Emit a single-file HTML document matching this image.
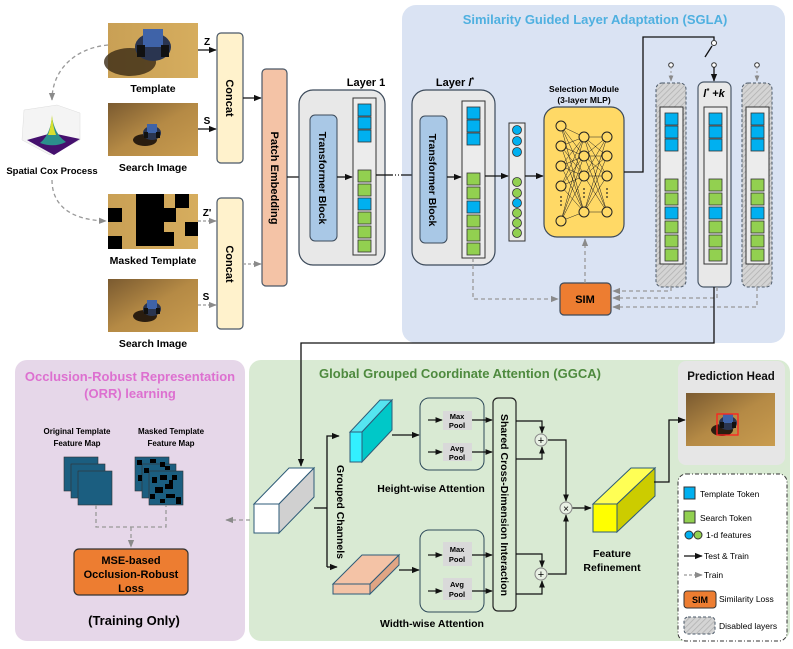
<!DOCTYPE html>
<html><head><meta charset="utf-8"><style>
html,body{margin:0;padding:0;background:#fff;}
svg{display:block;font-family:"Liberation Sans",sans-serif;}
.b{font-weight:bold;}
</style></head><body>
<svg width="793" height="649" viewBox="0 0 793 649" xmlns="http://www.w3.org/2000/svg">
<defs>
<marker id="ak" viewBox="0 0 10 10" refX="9" refY="5" markerWidth="6" markerHeight="6" orient="auto"><path d="M0,1 L10,5 L0,9 z" fill="#111"/></marker>
<marker id="ag" viewBox="0 0 10 10" refX="9" refY="5" markerWidth="6" markerHeight="6" orient="auto"><path d="M0,1 L10,5 L0,9 z" fill="#8a8a8a"/></marker>
<pattern id="hatch" width="4" height="4" patternUnits="userSpaceOnUse" patternTransform="rotate(45)"><rect width="4" height="4" fill="#d4d4d4"/><line x1="0" y1="0" x2="0" y2="4" stroke="#b0b0b0" stroke-width="1.5"/></pattern>
<linearGradient id="photo" x1="0" y1="0" x2="1" y2="1"><stop offset="0" stop-color="#7a5a30"/><stop offset="0.5" stop-color="#b58a45"/><stop offset="1" stop-color="#c99c4f"/></linearGradient>
<linearGradient id="photo2" x1="0" y1="0" x2="1" y2="0"><stop offset="0" stop-color="#c9a055"/><stop offset="1" stop-color="#d6ad5e"/></linearGradient>
<g id="col">
<rect x="0" y="0" width="23" height="157" fill="#ececec" stroke="#333" stroke-width="1"/>
<g stroke="#333" stroke-width="0.8">
<rect x="5" y="6" width="13" height="12" fill="#00b0f0"/><rect x="5" y="19" width="13" height="12" fill="#00b0f0"/><rect x="5" y="32" width="13" height="12" fill="#00b0f0"/>
<rect x="5" y="72" width="13" height="12" fill="#92d050"/><rect x="5" y="86" width="13" height="12" fill="#92d050"/><rect x="5" y="100" width="13" height="12" fill="#00b0f0"/>
<rect x="5" y="114" width="13" height="12" fill="#92d050"/><rect x="5" y="128" width="13" height="12" fill="#92d050"/><rect x="5" y="142" width="13" height="12" fill="#92d050"/>
</g></g>
<g id="car"><ellipse cx="0" cy="0" rx="9" ry="7" fill="#2a3550"/><rect x="-5" y="-9" width="10" height="9" fill="#3f63a8"/><rect x="-8" y="-1" width="4" height="6" fill="#111"/><rect x="4" y="-1" width="4" height="6" fill="#111"/></g>
</defs>

<!-- panels -->
<rect x="402" y="5" width="383" height="338" rx="14" fill="#dae3f3"/>
<text x="595" y="24" text-anchor="middle" class="b" font-size="13" fill="#4fb0e0">Similarity Guided Layer Adaptation (SGLA)</text>
<rect x="15" y="360" width="230" height="281" rx="12" fill="#e6d7e9"/>
<text x="130" y="381" text-anchor="middle" class="b" font-size="13" fill="#dd70d0">Occlusion-Robust Representation</text>
<text x="130" y="398" text-anchor="middle" class="b" font-size="13" fill="#dd70d0">(ORR) learning</text>
<rect x="249" y="360" width="541" height="281" rx="12" fill="#d9ead3"/>
<text x="460" y="378" text-anchor="middle" class="b" font-size="13" fill="#4e8a3e">Global Grouped Coordinate Attention (GGCA)</text>
<rect x="678" y="361" width="107" height="104" rx="8" fill="#e6e6e6"/>
<text x="731" y="380" text-anchor="middle" class="b" font-size="11.5" fill="#111">Prediction Head</text>

<!-- images -->
<rect x="108" y="23" width="90" height="55" fill="url(#photo2)"/><ellipse cx="130" cy="62" rx="26" ry="14" fill="#3a2a15" opacity="0.8"/><g transform="translate(153,47) scale(2)"><use href="#car"/></g>
<text x="153" y="92" text-anchor="middle" class="b" font-size="10.5">Template</text>
<rect x="108" y="103" width="90" height="53" fill="url(#photo)"/><ellipse cx="145" cy="140" rx="12" ry="6" fill="#2a1d10"/><use href="#car" transform="translate(152,133)"/>
<text x="153" y="171" text-anchor="middle" class="b" font-size="10.5">Search Image</text>
<rect x="108" y="194" width="90" height="55" fill="url(#photo2)"/>
<g fill="#000"><rect x="108" y="208" width="14" height="14"/><rect x="136" y="194" width="28" height="14"/><rect x="136" y="208" width="40" height="14"/><rect x="175" y="194" width="14" height="14"/><rect x="136" y="222" width="28" height="24"/><rect x="160" y="232" width="14" height="14"/><rect x="185" y="222" width="13" height="14"/><rect x="108" y="236" width="14" height="13"/></g>
<text x="153" y="264" text-anchor="middle" class="b" font-size="10.5">Masked Template</text>
<rect x="108" y="279" width="90" height="53" fill="url(#photo)"/><ellipse cx="145" cy="316" rx="12" ry="6" fill="#2a1d10"/><use href="#car" transform="translate(152,309)"/>
<text x="153" y="347" text-anchor="middle" class="b" font-size="10.5">Search Image</text>

<!-- Spatial cox -->
<g transform="translate(22,105)">
<path d="M2,5 L35,0 L58,8 L58,35 L28,50 L0,35 z" fill="#f4f4f4" stroke="#ddd" stroke-width="0.5"/>
<path d="M5,35 L30,28 L58,34 L32,50 z" fill="#45106e"/>
<path d="M18,38 Q28,30 30,12 Q33,30 44,37 Q32,43 18,38 z" fill="#2b8f8c"/>
<path d="M26,30 Q29,22 30,10 Q31,22 34,30 z" fill="#d8e030"/>
</g>
<text x="52" y="174" text-anchor="middle" class="b" font-size="9.5">Spatial Cox Process</text>
<path d="M108,45 C75,48 52,70 52,100" fill="none" stroke="#999" stroke-width="1.3" stroke-dasharray="4,3" marker-end="url(#ag)"/>
<path d="M52,180 C52,205 70,220 106,221" fill="none" stroke="#999" stroke-width="1.3" stroke-dasharray="4,3" marker-end="url(#ag)"/>

<!-- concat -->
<rect x="217" y="33" width="26" height="130" rx="4" fill="#fff2cc" stroke="#4a5868" stroke-width="1.2"/>
<text transform="translate(226,98) rotate(90)" text-anchor="middle" class="b" font-size="11">Concat</text>
<rect x="217" y="198" width="26" height="131" rx="4" fill="#fff2cc" stroke="#4a5868" stroke-width="1.2"/>
<text transform="translate(226,264) rotate(90)" text-anchor="middle" class="b" font-size="11">Concat</text>
<line x1="198" y1="50" x2="216" y2="50" stroke="#111" stroke-width="1.3" marker-end="url(#ak)"/><text x="207" y="45" text-anchor="middle" class="b" font-size="10">Z</text>
<line x1="198" y1="129" x2="216" y2="129" stroke="#111" stroke-width="1.3" marker-end="url(#ak)"/><text x="207" y="124" text-anchor="middle" class="b" font-size="10">S</text>
<line x1="198" y1="221" x2="216" y2="221" stroke="#999" stroke-width="1.3" stroke-dasharray="3,2" marker-end="url(#ag)"/><text x="207" y="216" text-anchor="middle" class="b" font-size="10">Z'</text>
<line x1="198" y1="305" x2="216" y2="305" stroke="#999" stroke-width="1.3" stroke-dasharray="3,2" marker-end="url(#ag)"/><text x="206" y="300" text-anchor="middle" class="b" font-size="10">S</text>
<line x1="243" y1="98" x2="261" y2="98" stroke="#111" stroke-width="1.3" marker-end="url(#ak)"/>
<line x1="243" y1="264" x2="261" y2="264" stroke="#999" stroke-width="1.3" stroke-dasharray="3,2" marker-end="url(#ag)"/>

<!-- patch embedding -->
<rect x="262" y="69" width="25" height="217" rx="4" fill="#f4c3a6" stroke="#4a5868" stroke-width="1.2"/>
<text transform="translate(271,178) rotate(90)" text-anchor="middle" class="b" font-size="11">Patch Embedding</text>
<line x1="287" y1="177" x2="309" y2="177" stroke="#111" stroke-width="1.3" marker-end="url(#ak)"/>

<!-- Layer 1 -->
<text x="366" y="86" text-anchor="middle" class="b" font-size="11">Layer 1</text>
<rect x="299" y="90" width="86" height="175" rx="14" fill="#e8e8e8" stroke="#3c4a5a" stroke-width="1.2"/>
<rect x="310" y="115" width="27" height="126" rx="5" fill="#a9c8e6" stroke="#3c4a5a" stroke-width="1"/>
<text transform="translate(319,178) rotate(90)" text-anchor="middle" class="b" font-size="10.5">Transformer Block</text>
<line x1="337" y1="177" x2="352" y2="177" stroke="#111" stroke-width="1.3" marker-end="url(#ak)"/>
<use href="#col" x="353" y="98"/>
<line x1="376" y1="175" x2="392" y2="175" stroke="#111" stroke-width="1.3"/>
<line x1="392" y1="175" x2="402" y2="175" stroke="#111" stroke-width="1.3" stroke-dasharray="1,2"/>
<line x1="402" y1="175" x2="419" y2="175" stroke="#111" stroke-width="1.3" marker-end="url(#ak)"/>

<!-- Layer l* -->
<text x="455" y="86" text-anchor="middle" class="b" font-size="11">Layer <tspan font-style="italic">l</tspan><tspan font-size="7" dy="-4">*</tspan></text>
<rect x="412" y="90" width="83" height="175" rx="14" fill="#e8e8e8" stroke="#3c4a5a" stroke-width="1.2"/>
<rect x="420" y="116" width="27" height="127" rx="5" fill="#a9c8e6" stroke="#3c4a5a" stroke-width="1"/>
<text transform="translate(429,180) rotate(90)" text-anchor="middle" class="b" font-size="10.5">Transformer Block</text>
<line x1="447" y1="177" x2="461" y2="177" stroke="#111" stroke-width="1.3" marker-end="url(#ak)"/>
<use href="#col" x="462" y="101"/>
<line x1="485" y1="176" x2="508" y2="176" stroke="#111" stroke-width="1.3" marker-end="url(#ak)"/>
<rect x="509" y="123" width="16" height="118" fill="#ececec" stroke="#333"/>
<g stroke="#333" stroke-width="0.8">
<circle cx="517" cy="130" r="4.5" fill="#00b0f0"/><circle cx="517" cy="141" r="4.5" fill="#00b0f0"/><circle cx="517" cy="152" r="4.5" fill="#00b0f0"/>
<circle cx="517" cy="182" r="4.5" fill="#92d050"/><circle cx="517" cy="193" r="4.5" fill="#92d050"/><circle cx="517" cy="203" r="4.5" fill="#00b0f0"/>
<circle cx="517" cy="213" r="4.5" fill="#92d050"/><circle cx="517" cy="223" r="4.5" fill="#92d050"/><circle cx="517" cy="233" r="4.5" fill="#92d050"/>
</g>
<line x1="525" y1="176" x2="543" y2="176" stroke="#111" stroke-width="1.3" marker-end="url(#ak)"/>

<!-- selection module -->
<text x="584" y="92" text-anchor="middle" class="b" font-size="8.5">Selection Module</text>
<text x="584" y="103" text-anchor="middle" class="b" font-size="8.5">(3-layer MLP)</text>
<rect x="544" y="107" width="80" height="130" rx="13" fill="#ffd966" stroke="#3c4a5a" stroke-width="1.2"/>
<g stroke="#222" stroke-width="0.5">
<path d="M561,126L584,137M561,126L584,156M561,126L584,176M561,126L584,212M561,146L584,137M561,146L584,156M561,146L584,176M561,146L584,212M561,166L584,137M561,166L584,156M561,166L584,176M561,166L584,212M561,186L584,137M561,186L584,156M561,186L584,176M561,186L584,212M561,221L584,137M561,221L584,156M561,221L584,176M561,221L584,212"/>
<path d="M584,137L607,137M584,137L607,156M584,137L607,176M584,137L607,212M584,156L607,137M584,156L607,156M584,156L607,176M584,156L607,212M584,176L607,137M584,176L607,156M584,176L607,176M584,176L607,212M584,212L607,137M584,212L607,156M584,212L607,176M584,212L607,212"/>
</g>
<g fill="#ffd966" stroke="#222" stroke-width="1">
<circle cx="561" cy="126" r="5"/><circle cx="561" cy="146" r="5"/><circle cx="561" cy="166" r="5"/><circle cx="561" cy="186" r="5"/><circle cx="561" cy="221" r="5"/>
<circle cx="584" cy="137" r="5"/><circle cx="584" cy="156" r="5"/><circle cx="584" cy="176" r="5"/><circle cx="584" cy="212" r="5"/>
<circle cx="607" cy="137" r="5"/><circle cx="607" cy="156" r="5"/><circle cx="607" cy="176" r="5"/><circle cx="607" cy="212" r="5"/>
</g>
<g fill="#222"><circle cx="561" cy="197" r="0.9"/><circle cx="561" cy="201" r="0.9"/><circle cx="561" cy="205" r="0.9"/><circle cx="584" cy="189" r="0.9"/><circle cx="584" cy="193" r="0.9"/><circle cx="584" cy="197" r="0.9"/><circle cx="607" cy="189" r="0.9"/><circle cx="607" cy="193" r="0.9"/><circle cx="607" cy="197" r="0.9"/></g>
<polyline points="624,172 643,172 643,37 714,37 714,40" fill="none" stroke="#111" stroke-width="1.3"/>
<circle cx="714" cy="43" r="2.5" fill="#fff" stroke="#333"/>
<line x1="712" y1="46" x2="705" y2="57" stroke="#111" stroke-width="1.3"/>

<!-- layer columns -->
<rect x="656" y="83" width="30" height="204" rx="6" fill="url(#hatch)" stroke="#4a5868" stroke-dasharray="3,2"/>
<use href="#col" x="660" y="107"/>
<rect x="698" y="82" width="33" height="205" rx="6" fill="#e8e8e8" stroke="#4a5868" stroke-width="1.2"/>
<text x="714" y="97" text-anchor="middle" class="b" font-size="11" font-style="italic">l<tspan font-size="7" dy="-4">*</tspan><tspan dy="4"> +k</tspan></text>
<use href="#col" x="704" y="107"/>
<rect x="742" y="83" width="30" height="204" rx="6" fill="url(#hatch)" stroke="#4a5868" stroke-dasharray="3,2"/>
<use href="#col" x="746" y="107"/>
<circle cx="671" cy="65" r="2.3" fill="#fff" stroke="#333"/><line x1="671" y1="67" x2="671" y2="81" stroke="#999" stroke-dasharray="2,2" marker-end="url(#ag)"/>
<circle cx="714" cy="65" r="2.3" fill="#fff" stroke="#333"/><line x1="714" y1="67" x2="714" y2="81" stroke="#111" stroke-width="1.3" marker-end="url(#ak)"/>
<circle cx="757" cy="65" r="2.3" fill="#fff" stroke="#333"/><line x1="757" y1="67" x2="757" y2="81" stroke="#999" stroke-dasharray="2,2" marker-end="url(#ag)"/>

<!-- SIM -->
<rect x="560" y="283" width="51" height="32" rx="4" fill="#ed7d31" stroke="#3c4a5a" stroke-width="1.2"/>
<text x="585" y="303" text-anchor="middle" class="b" font-size="11">SIM</text>
<g fill="none" stroke="#999" stroke-width="1.3" stroke-dasharray="4,3">
<polyline points="473,258 473,299 558,299" marker-end="url(#ag)"/>
<line x1="585" y1="283" x2="585" y2="239" marker-end="url(#ag)"/>
<polyline points="671,287 671,291 613,291" marker-end="url(#ag)"/>
<polyline points="717,287 717,298 613,298" marker-end="url(#ag)"/>
<polyline points="757,287 757,307 613,307" marker-end="url(#ag)"/>
</g>
<polyline points="714,287 714,343 301,343 301,466" fill="none" stroke="#111" stroke-width="1.3" marker-end="url(#ak)"/>

<!-- ORR -->
<text x="77" y="434" text-anchor="middle" class="b" font-size="8">Original Template</text>
<text x="77" y="446" text-anchor="middle" class="b" font-size="8">Feature Map</text>
<text x="171" y="434" text-anchor="middle" class="b" font-size="8">Masked Template</text>
<text x="171" y="446" text-anchor="middle" class="b" font-size="8">Feature Map</text>
<g fill="#1b5e80" stroke="#333" stroke-width="0.6">
<rect x="64" y="457" width="34" height="34"/><rect x="71" y="464" width="34" height="34"/><rect x="78" y="471" width="34" height="34"/>
<rect x="135" y="457" width="34" height="34"/><rect x="142" y="464" width="34" height="34"/><rect x="149" y="471" width="34" height="34"/>
</g>
<g fill="#000">
<rect x="137" y="460" width="5" height="5"/><rect x="150" y="459" width="6" height="4"/><rect x="160" y="462" width="5" height="5"/><rect x="138" y="475" width="4" height="6"/><rect x="144" y="468" width="5" height="5"/><rect x="165" y="466" width="5" height="4"/>
<rect x="152" y="477" width="5" height="6"/><rect x="160" y="475" width="7" height="5"/><rect x="172" y="475" width="5" height="5"/><rect x="155" y="487" width="8" height="6"/><rect x="165" y="484" width="8" height="5"/>
<rect x="150" y="494" width="5" height="5"/><rect x="166" y="494" width="9" height="4"/><rect x="176" y="497" width="5" height="7"/><rect x="160" y="499" width="5" height="4"/><rect x="169" y="480" width="4" height="4"/>
</g>
<g fill="none" stroke="#999" stroke-width="1.3" stroke-dasharray="4,3">
<polyline points="96,505 96,527 166,527 166,505"/>
<line x1="131" y1="527" x2="131" y2="547" marker-end="url(#ag)"/>
<line x1="250" y1="520" x2="226" y2="520" marker-end="url(#ag)"/>
</g>
<rect x="74" y="549" width="114" height="46" rx="5" fill="#ed7d31" stroke="#333" stroke-width="1.2"/>
<text x="131" y="564" text-anchor="middle" class="b" font-size="11">MSE-based</text>
<text x="131" y="578" text-anchor="middle" class="b" font-size="11">Occlusion-Robust</text>
<text x="131" y="592" text-anchor="middle" class="b" font-size="11">Loss</text>
<text x="134" y="625" text-anchor="middle" class="b" font-size="13">(Training Only)</text>

<!-- GGCA -->
<g stroke="#2e5b78" stroke-width="1">
<polygon points="254,504 279,504 314,468 289,468" fill="#fff"/>
<polygon points="279,504 314,468 314,497 279,533" fill="#d0d0d0"/>
<rect x="254" y="504" width="25" height="29" fill="#fff"/>
</g>
<polyline points="314,508 327,508" stroke="#111" stroke-width="1.3" fill="none"/>
<polyline points="327,567 327,436 339,436" stroke="#111" stroke-width="1.3" fill="none" marker-end="url(#ak)"/>
<line x1="327" y1="567" x2="337" y2="567" stroke="#111" stroke-width="1.3" marker-end="url(#ak)"/>
<text transform="translate(337,512) rotate(90)" text-anchor="middle" class="b" font-size="10.5">Grouped Channels</text>
<g stroke="#2e5b78" stroke-width="1">
<polygon points="350,432 362,432 392,400 380,400" fill="#55e5f0"/>
<polygon points="362,432 392,400 392,430 362,462" fill="#00c8c8"/>
<rect x="350" y="432" width="12" height="30" fill="#33f0ff"/>
<polygon points="333,584 370,584 399,555 362,555" fill="#f4c3a6"/>
<polygon points="370,584 399,555 399,565 370,594" fill="#e0a584"/>
<rect x="333" y="584" width="37" height="10" fill="#f4c3a6"/>
</g>
<line x1="392" y1="435" x2="419" y2="435" stroke="#111" stroke-width="1.3" marker-end="url(#ak)"/>
<line x1="399" y1="570" x2="419" y2="570" stroke="#111" stroke-width="1.3" marker-end="url(#ak)"/>
<rect x="420" y="398" width="64" height="72" rx="9" fill="none" stroke="#2e4a5a" stroke-width="1"/>
<rect x="443" y="411" width="29" height="19" fill="#d9d9d9"/><text x="457" y="419" text-anchor="middle" class="b" font-size="7.5">Max</text><text x="457" y="428" text-anchor="middle" class="b" font-size="7.5">Pool</text>
<rect x="443" y="443" width="29" height="18" fill="#d9d9d9"/><text x="457" y="451" text-anchor="middle" class="b" font-size="7.5">Avg</text><text x="457" y="460" text-anchor="middle" class="b" font-size="7.5">Pool</text>
<text x="431" y="492" text-anchor="middle" class="b" font-size="10.5">Height-wise Attention</text>
<rect x="420" y="530" width="64" height="82" rx="9" fill="none" stroke="#2e4a5a" stroke-width="1"/>
<rect x="443" y="542" width="29" height="24" fill="#d9d9d9"/><text x="457" y="552" text-anchor="middle" class="b" font-size="7.5">Max</text><text x="457" y="562" text-anchor="middle" class="b" font-size="7.5">Pool</text>
<rect x="443" y="578" width="29" height="22" fill="#d9d9d9"/><text x="457" y="587" text-anchor="middle" class="b" font-size="7.5">Avg</text><text x="457" y="597" text-anchor="middle" class="b" font-size="7.5">Pool</text>
<text x="432" y="627" text-anchor="middle" class="b" font-size="10.5">Width-wise Attention</text>
<g stroke="#111" stroke-width="1.2" fill="none">
<line x1="428" y1="420" x2="442" y2="420" marker-end="url(#ak)"/><line x1="428" y1="452" x2="442" y2="452" marker-end="url(#ak)"/>
<line x1="428" y1="555" x2="442" y2="555" marker-end="url(#ak)"/><line x1="428" y1="591" x2="442" y2="591" marker-end="url(#ak)"/>
<line x1="472" y1="420" x2="492" y2="420" marker-end="url(#ak)"/><line x1="472" y1="452" x2="492" y2="452" marker-end="url(#ak)"/>
<line x1="472" y1="555" x2="492" y2="555" marker-end="url(#ak)"/><line x1="472" y1="591" x2="492" y2="591" marker-end="url(#ak)"/>
</g>
<rect x="493" y="398" width="23" height="213" rx="5" fill="none" stroke="#222" stroke-width="1.2"/>
<text transform="translate(501,505) rotate(90)" text-anchor="middle" class="b" font-size="10.5">Shared Cross-Dimension Interaction</text>
<g stroke="#111" stroke-width="1.2" fill="none">
<polyline points="516,421 542,421 542,433" marker-end="url(#ak)"/>
<polyline points="516,459 542,459 542,447" marker-end="url(#ak)"/>
<polyline points="516,554 542,554 542,567" marker-end="url(#ak)"/>
<polyline points="516,594 542,594 542,581" marker-end="url(#ak)"/>
<polyline points="548,440 566,440 566,501" marker-end="url(#ak)"/>
<polyline points="548,574 566,574 566,515" marker-end="url(#ak)"/>
<line x1="572" y1="508" x2="591" y2="508" marker-end="url(#ak)"/>
</g>
<circle cx="541" cy="440" r="6" fill="#e8f0e4" stroke="#888"/><text x="541" y="444" text-anchor="middle" font-size="11">+</text>
<circle cx="541" cy="574" r="6" fill="#e8f0e4" stroke="#888"/><text x="541" y="578" text-anchor="middle" font-size="11">+</text>
<circle cx="566" cy="508" r="6" fill="#e8f0e4" stroke="#888"/><text x="566" y="512" text-anchor="middle" font-size="10">×</text>
<g stroke="#2e5b78" stroke-width="1">
<polygon points="593,504 617,504 655,468 631,468" fill="#ffff55"/>
<polygon points="617,504 655,468 655,496 617,532" fill="#cccc00"/>
<rect x="593" y="504" width="24" height="28" fill="#ffff00"/>
</g>
<text x="612" y="557" text-anchor="middle" class="b" font-size="10.5">Feature</text>
<text x="612" y="571" text-anchor="middle" class="b" font-size="10.5">Refinement</text>
<polyline points="654,482 669,482 669,420 685,420" fill="none" stroke="#111" stroke-width="1.3" marker-end="url(#ak)"/>

<!-- prediction image -->
<rect x="686" y="393" width="89" height="53" fill="url(#photo)"/>
<ellipse cx="722" cy="430" rx="11" ry="6" fill="#2a1d10"/><use href="#car" transform="translate(728,423)"/>
<rect x="717" y="414" width="21" height="21" fill="none" stroke="#ff2020" stroke-width="1.3"/>

<!-- legend -->
<rect x="678" y="474" width="109" height="167" rx="8" fill="#fff" stroke="#333" stroke-dasharray="4,2,1,2"/>
<rect x="684" y="487" width="11" height="12" fill="#00b0f0" stroke="#333"/><text x="700" y="497" font-size="8.5">Template Token</text>
<rect x="684" y="511" width="11" height="12" fill="#92d050" stroke="#333"/><text x="700" y="521" font-size="8.5">Search Token</text>
<circle cx="689" cy="535" r="4" fill="#00b0f0" stroke="#333"/><circle cx="698" cy="535" r="4" fill="#92d050" stroke="#333"/><text x="706" y="538" font-size="8.5">1-d features</text>
<line x1="684" y1="556" x2="702" y2="556" stroke="#111" stroke-width="1.3" marker-end="url(#ak)"/><text x="704" y="559" font-size="8.5">Test &amp; Train</text>
<line x1="684" y1="575" x2="702" y2="575" stroke="#999" stroke-width="1.3" stroke-dasharray="3,2" marker-end="url(#ag)"/><text x="704" y="578" font-size="8.5">Train</text>
<rect x="684" y="591" width="32" height="17" rx="3" fill="#ed7d31" stroke="#333"/><text x="700" y="603" text-anchor="middle" class="b" font-size="9">SIM</text><text x="719" y="602" font-size="8.5">Similarity Loss</text>
<rect x="684" y="617" width="31" height="17" rx="4" fill="url(#hatch)" stroke="#4a5868" stroke-dasharray="3,2"/><text x="719" y="629" font-size="8.5">Disabled layers</text>
</svg>
</body></html>
